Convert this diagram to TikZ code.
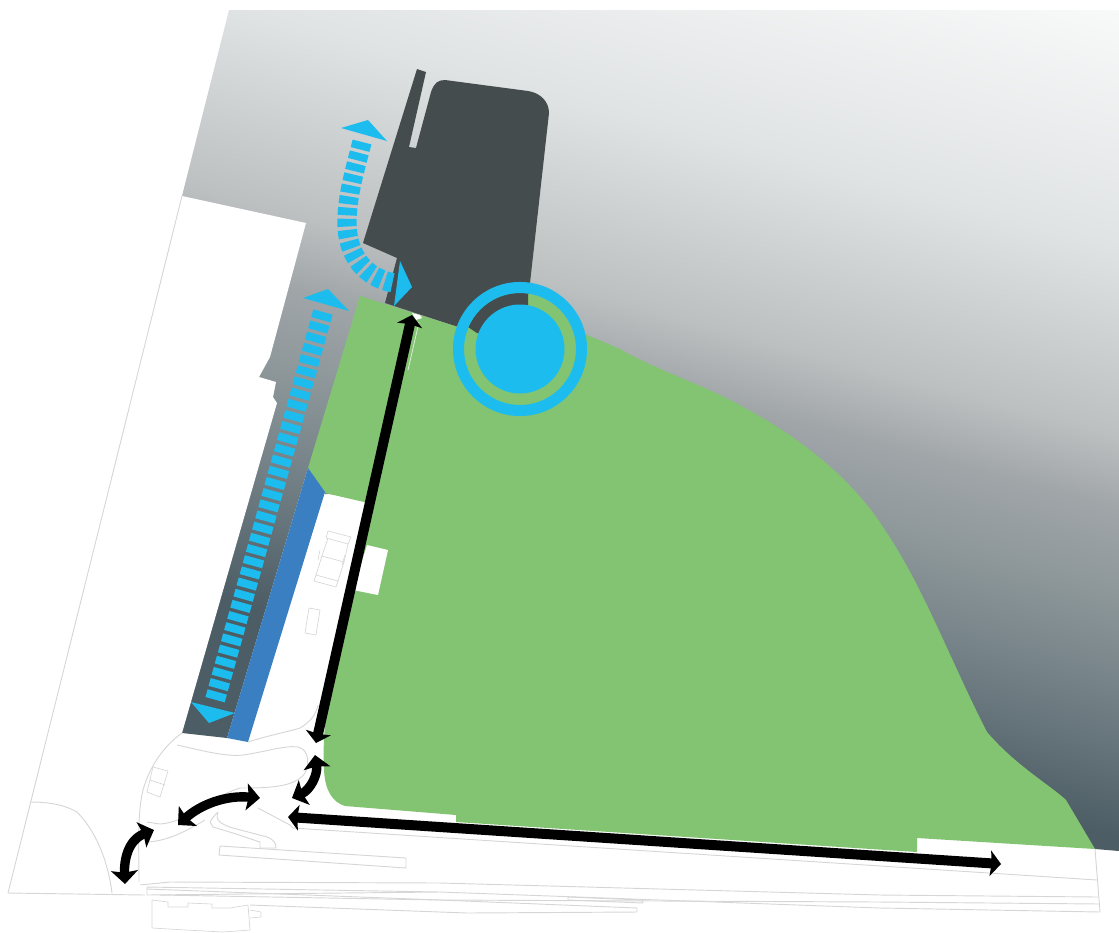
\documentclass[tikz,border=0pt]{standalone}
\usetikzlibrary{arrows.meta}
\definecolor{gA}{HTML}{FCFDFD}
\definecolor{gA2}{HTML}{F8F9F9}
\definecolor{gB}{HTML}{E0E3E4}
\definecolor{gC}{HTML}{BCC0C1}
\definecolor{gD}{HTML}{A0A5A8}
\definecolor{gD2}{HTML}{8C9699}
\definecolor{gE}{HTML}{6F7D83}
\definecolor{gF}{HTML}{4D5D65}
\definecolor{darkbld}{HTML}{454C4E}
\definecolor{parkgreen}{HTML}{83C472}
\definecolor{cyanb}{HTML}{1CBDEE}
\definecolor{waterblue}{HTML}{3A7FC1}
\definecolor{plan}{HTML}{D6D6D6}
\pgfdeclareverticalshading{bgshade}{100bp}{color(0bp)=(gF); color(33bp)=(gF); color(38.3bp)=(gE); color(43.1bp)=(gD2); color(47bp)=(gD); color(50.2bp)=(gC); color(58.2bp)=(gB); color(68.4bp)=(gA2); color(75bp)=(gA); color(100bp)=(gA)}
\tikzset{
  x=0.75pt,y=-0.75pt,
  planline/.style={draw=plan,line width=0.7pt,line join=round},
  planthin/.style={draw=plan,line width=0.5pt,line join=round},
  dashbar/.style={draw=cyanb,line width=15pt,dash pattern=on 6pt off 2.7pt},
  dashcurve/.style={draw=cyanb,line width=14.5pt,dash pattern=on 5.8pt off 2.6pt},
  cyantri/.style={fill=cyanb},
  blackarrow/.style={draw=black,line width=7.5pt,{Stealth[length=8pt,width=19pt,inset=1pt]}-{Stealth[length=8pt,width=19pt,inset=1pt]}},
  curvearrow/.style={draw=black,line width=7pt,{Stealth[length=10pt,width=20pt,inset=1.5pt]}-{Stealth[length=10pt,width=20pt,inset=1.5pt]}},
}
\begin{document}
\begin{tikzpicture}
\useasboundingbox (0,0) rectangle (1119,932);
% gradient ground
\begin{scope}
\clip (229,10) -- (1119,10) -- (1119,851) -- (1095,849) -- (1000,790) -- (900,650) -- (500,500) -- (325,494) -- (308,468) -- (227,738) -- (182,733) -- (182,196) -- cycle;
\shade[shading=bgshade,transform canvas={rotate=-15}] (-800,-430) rectangle (1800,700);
\end{scope}
% white plot at left
\fill[white] (182,196) -- (306,223) -- (270,357) -- (259,377) -- (276,382) -- (273,397) -- (277,403) -- (182,733) -- cycle;
% dark building
\fill[darkbld] (417,69) -- (426,72) -- (409,147) -- (416,148) -- (431,92) .. controls (434,83) and (438,80) .. (445,80)
 -- (528,91) .. controls (541,93) and (549,102) .. (549,113) -- (530,283) -- (527,310) -- (477,333) -- (455,326) -- (385,303) -- (397,258) -- (363,243) -- cycle;
% park
\fill[parkgreen] (360,296) -- (477,333) -- (528,310) -- (620,349)
  .. controls (660,372) and (705,385) .. (745,408)
  .. controls (795,435) and (850,475) .. (885,530)
  .. controls (925,590) and (950,660) .. (987,732)
  .. controls (1015,765) and (1050,785) .. (1066,800)
  -- (1095,849) -- (917,838) -- (917,852) -- (456,822) -- (456,815) -- (345,806)
  .. controls (332,802) and (325,790) .. (324,770)
  .. controls (322,730) and (328,690) .. (340,640)
  -- (372,503) -- (364,502) -- (325,493) -- (308,468) -- cycle;
\fill[parkgreen] (520,349) circle [radius=56];
% dark wedge inside ring
\begin{scope}
\clip (520,349) circle [radius=56];
\fill[darkbld] (460,285) -- (528,285) -- (528,345) -- (477,333) -- (468,327) -- (455,320) -- cycle;
\end{scope}
% water
\fill[waterblue] (308,468) -- (325,492) -- (248,742) -- (227,738) -- cycle;
% white notch in the park
\fill[white] (367,545) -- (388,550) -- (378,595) -- (353,590) -- cycle;
% ring and disc
\draw[cyanb,line width=8.3pt] (520,349) circle [radius=61.5];
\fill[cyanb] (520,349) circle [radius=44.5];
% plan outlines
\draw[planline] (182,196) -- (8,893) -- (145,895);
\draw[planline] (30,802) .. controls (50,802) and (65,805) .. (77,812) .. controls (95,830) and (108,860) .. (112,893);
\draw[planline] (182,733) .. controls (165,745) and (150,765) .. (143,790) .. controls (137,815) and (139,850) .. (139,882);
\draw[planline] (177,745) .. controls (200,750) and (225,757) .. (243,755) .. controls (265,752) and (285,745) .. (298,747)
 .. controls (310,750) and (309,765) .. (305,773) .. controls (295,788) and (265,788) .. (240,788)
 .. controls (215,795) and (190,822) .. (160,824) -- (147,822);
\draw[planline] (145,842) .. controls (165,842) and (185,832) .. (205,820);
\draw[planline] (248,742) .. controls (270,735) and (295,730) .. (300,728) .. controls (310,722) and (316,715) .. (318,705);
\draw[planline] (218,812) .. controls (215,820) and (220,824) .. (233,828) -- (267,837) .. controls (274,840) and (276,843) .. (276,848) -- (260,848) -- (260,842) -- (233,833) -- (213,827) -- (210,822) .. controls (212,818) and (215,815) .. (218,812);
\draw[planline] (258,808) -- (290,825) -- (293,828) -- (1097,880);
\draw[planline] (220,846) -- (406,858) -- (406,868) -- (219,855) -- cycle;
\draw[planline] (1095,849) -- (1100,912) -- (880,908) -- (440,892) -- (147,895) -- (147,887) -- (440,892);
\draw[planline] (880,895) -- (1098,897);
\draw[planline] (880,902) -- (1100,904);
\draw[planline] (140,885) -- (170,882) -- (440,883) -- (880,895);
\draw[planline] (147,889) -- (440,900) -- (880,902);
\draw[planline] (160,895) -- (440,900) -- (637,908) -- (637,912) -- (467,913) -- (250,905);
\draw[planline] (568,897) -- (642,900) -- (643,903) -- (568,900) -- cycle;
% small plan pieces
\draw[planthin] (153,767) -- (168,771) -- (160,797) -- (147,792) -- cycle (150,780) -- (165,785);
\draw[planthin] (152,900) -- (168,902) -- (168,907) -- (188,907) -- (188,903) -- (212,904) -- (212,908) -- (230,908) -- (248,905) -- (250,930) -- (223,932) -- (186,930) -- (152,928) -- cycle;
\draw[planthin] (250,910) -- (261,912) -- (261,917) -- (250,918);
\draw[planthin] (305,633) -- (309,608) -- (320,610) -- (316,635) -- cycle;
\draw[planthin] (328,531) -- (351,537) -- (348,544) -- (326,538) -- cycle;
\draw[planthin] (328,538) -- (322,556) -- (344,562) -- (348,544);
\draw[planthin] (322,556) -- (316,575) -- (338,581) -- (344,562);
\draw[planthin] (316,575) -- (314,581) -- (336,587) -- (338,581);
\draw[planthin] (320,550) -- (318,560) (345,555) -- (342,565);
% dashed arrows
\draw[dashbar] (323,312) -- (215,700);
\fill[cyantri] (303,298) -- (328,289) -- (349,311) -- cycle;
\fill[cyantri] (191,702) -- (235,713) -- (209,723) -- cycle;
\draw[dashcurve] (362,142) .. controls (355,170) and (347,195) .. (347,223) .. controls (347,255) and (365,278) .. (394,283);
\fill[cyantri] (341,128) -- (368,120) -- (387,141) -- cycle;
\fill[cyantri] (400,261) -- (412,287) -- (394,306) -- cycle;
% black arrows
\draw[white!70!parkgreen,line width=0.6pt] (419,322) -- (408,370);
\fill[white] (412,313) -- (420,315) -- (422,318) -- (416,320) -- cycle;
\coordinate (a1) at (412,315); \coordinate (a2) at (316,743);
\draw[blackarrow] (a1) -- (a2);
\coordinate (b1) at (288,817); \coordinate (b2) at (1001,864);
\draw[blackarrow] (b1) -- (b2);
\coordinate (c1) at (125,884); \coordinate (c2) at (154,830);
\draw[curvearrow] (c1) .. controls (124,860) and (128,840) .. (c2);
\coordinate (d1) at (178,825); \coordinate (d2) at (260,798);
\draw[curvearrow] (d1) .. controls (200,805) and (225,795) .. (d2);
\coordinate (e1) at (292,798); \coordinate (e2) at (315,755);
\draw[curvearrow] (e1) .. controls (310,790) and (318,775) .. (e2);
\end{tikzpicture}
\end{document}
